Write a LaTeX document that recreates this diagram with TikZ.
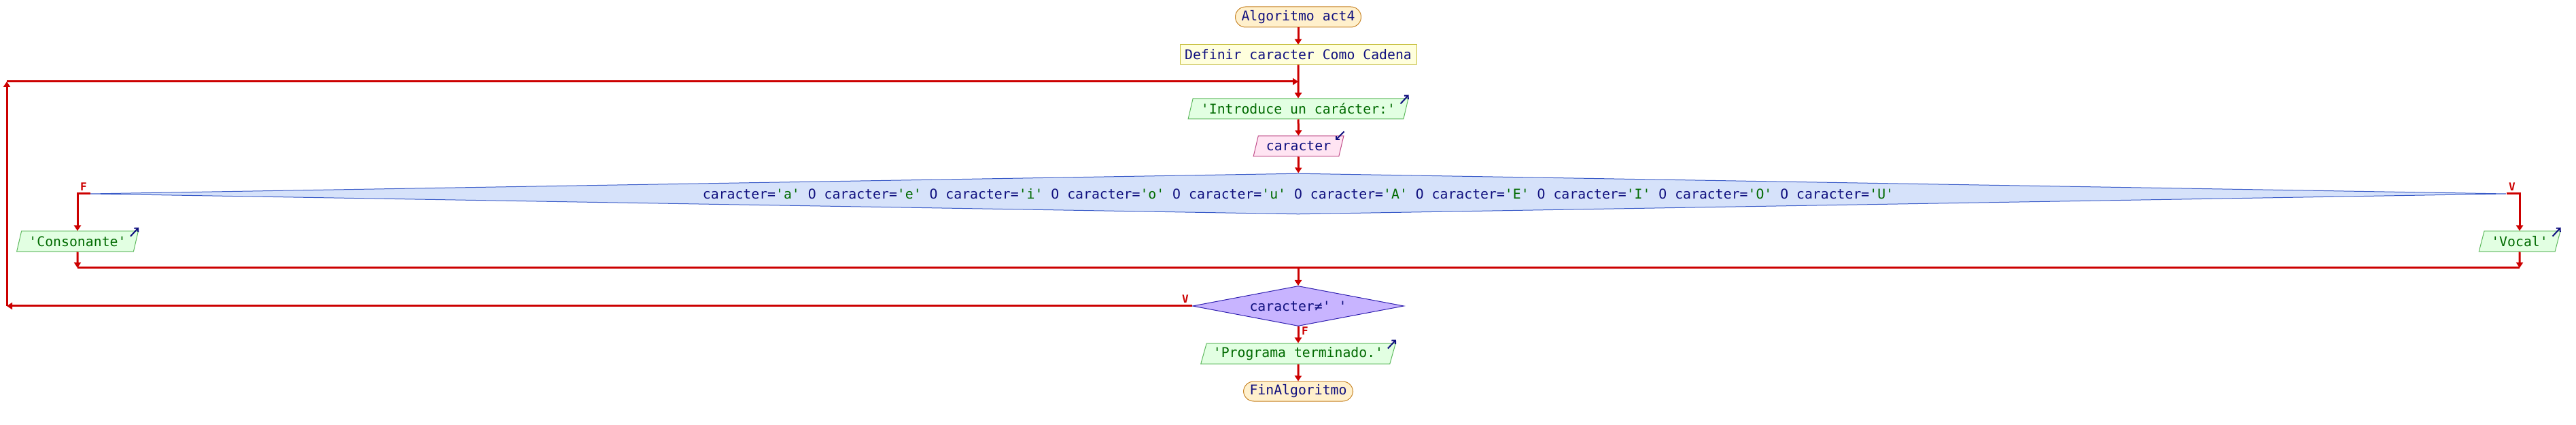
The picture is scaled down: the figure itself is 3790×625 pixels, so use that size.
\documentclass[tikz,border=0pt]{standalone}
\usepackage{fontspec}
\setmonofont{DejaVu Sans Mono}
\usepackage{xcolor}
\usetikzlibrary{shapes.geometric,arrows.meta,calc}
\definecolor{flecha}{HTML}{CC0000}
\definecolor{azul}{HTML}{10107F}
\definecolor{verde}{HTML}{006A00}
\definecolor{termborde}{HTML}{C8862A}
\definecolor{termfondo}{HTML}{FFF0CC}
\definecolor{defborde}{HTML}{C8C040}
\definecolor{deffondo}{HTML}{FFFFDD}
\definecolor{salborde}{HTML}{5CB85C}
\definecolor{salfondo}{HTML}{E2FFE2}
\definecolor{entborde}{HTML}{C04C88}
\definecolor{entfondo}{HTML}{FFE4F2}
\definecolor{siborde}{HTML}{3A5BC8}
\definecolor{sifondo}{HTML}{D6E2FA}
\definecolor{mqborde}{HTML}{3020B0}
\definecolor{mqfondo}{HTML}{C8B4FF}
\newcommand{\lit}[1]{\textcolor{verde}{#1}}
\begin{document}
\begin{tikzpicture}[x=0.5pt,y=-0.5pt]
	\tikzstyle{every node}+=[inner sep=0pt,font=\ttfamily\fontsize{9.9}{12}\selectfont,text=azul]
	\tikzstyle{terminal}=[draw=termborde,fill=termfondo,rounded corners=7.5pt,line width=0.5pt]
	\tikzstyle{definir}=[draw=defborde,fill=deffondo,line width=0.5pt]
	\tikzstyle{salida}=[trapezium,trapezium left angle=68,trapezium right angle=112,trapezium stretches=true,draw=salborde,fill=salfondo,text=verde,line width=0.5pt,minimum height=15pt]
	\tikzstyle{entrada}=[trapezium,trapezium left angle=68,trapezium right angle=112,trapezium stretches=true,draw=entborde,fill=entfondo,line width=0.5pt,minimum height=15pt]
	\tikzstyle{cond}=[diamond,line width=0.5pt]
	\tikzstyle{flujo}=[flecha,line width=1.5pt,-{Triangle[width=5pt,length=4pt]}]
	\tikzstyle{linea}=[flecha,line width=1.5pt]
	\tikzstyle{etiq}=[text=flecha,font=\ttfamily\bfseries\fontsize{8}{10}\selectfont]
	\tikzstyle{marca}=[azul,line width=1pt,-{Straight Barb[length=2pt,width=4pt]}]
	\useasboundingbox (0,0) rectangle (3790,625);
	\node [terminal,minimum width=92.5pt,minimum height=15pt] (inicio) at (1910,25) {Algoritmo act4};
	\node [definir,minimum width=174pt,minimum height=14.5pt] (def) at (1910,80.5) {Definir caracter Como Cadena};
	\node [salida,minimum width=162pt] (msg) at (1910,160) {'Introduce un carácter:'};
	\node [entrada,minimum width=66.5pt] (leer) at (1910.5,215) {caracter};
	\node [cond,draw=siborde,fill=sifondo,aspect=59,minimum width=1777pt,minimum height=30pt] (vocal) at (1910,285) {caracter=\lit{'a'} O caracter=\lit{'e'} O caracter=\lit{'i'} O caracter=\lit{'o'} O caracter=\lit{'u'} O caracter=\lit{'A'} O caracter=\lit{'E'} O caracter=\lit{'I'} O caracter=\lit{'O'} O caracter=\lit{'U'}};
	\node [salida,minimum width=90pt] (cons) at (114,355) {'Consonante'};
	\node [salida,minimum width=60pt] (voc) at (3707,355) {'Vocal'};
	\node [cond,draw=mqborde,fill=mqfondo,aspect=5,minimum width=155.5pt,minimum height=29.5pt] (fin) at (1910,450) {caracter≠' '};
	\node [salida,minimum width=143.5pt] (term) at (1910,520) {'Programa terminado.'};
	\node [terminal,minimum width=80.5pt,minimum height=14.5pt] (final) at (1910,575.5) {FinAlgoritmo};
	\coordinate (ret) at (1910,120);
	\coordinate (lt) at (10,120);
	\coordinate (lb) at (10,450);
	\coordinate (jl) at (114,394);
	\coordinate (jr) at (3707,394);
	\coordinate (jc) at (1910,394);
	\draw [flujo] (inicio) -- (def);
	\draw [flujo] (def) -- (msg);
	\draw [flujo] (msg) -- (leer);
	\draw [flujo] (leer) -- (vocal);
	\draw [flujo] (vocal.west) -| (cons.north);
	\draw [flujo] (vocal.east) -| (voc.north);
	\draw [flujo] (cons.south) -- (jl);
	\draw [flujo] (voc.south) -- (jr);
	\draw [linea] (jl) -- (jr);
	\draw [flujo] (jc) -- (fin.north);
	\draw [flujo] (fin.south) -- (term);
	\draw [flujo] (term) -- (final);
	\draw [flujo] (fin.west) -- (lb);
	\draw [flujo] (lb) -- (lt);
	\draw [flujo] (lt) -- (ret);
	\node [etiq] (f1) at (123,275) {F};
	\node [etiq] (v1) at (3696,275) {V};
	\node [etiq] (v2) at (1744,440) {V};
	\node [etiq] (f2) at (1920,487) {F};
	\draw [marca] ($(msg.top right corner)+(-12,8)$) -- ($(msg.top right corner)+(0,-5)$);
	\draw [marca] ($(leer.top right corner)+(0,-6)$) -- ($(leer.top right corner)+(-13,7)$);
	\draw [marca] ($(cons.top right corner)+(-12,8)$) -- ($(cons.top right corner)+(0,-5)$);
	\draw [marca] ($(voc.top right corner)+(-12,8)$) -- ($(voc.top right corner)+(0,-5)$);
	\draw [marca] ($(term.top right corner)+(-12,8)$) -- ($(term.top right corner)+(0,-5)$);
\end{tikzpicture}
\end{document}
